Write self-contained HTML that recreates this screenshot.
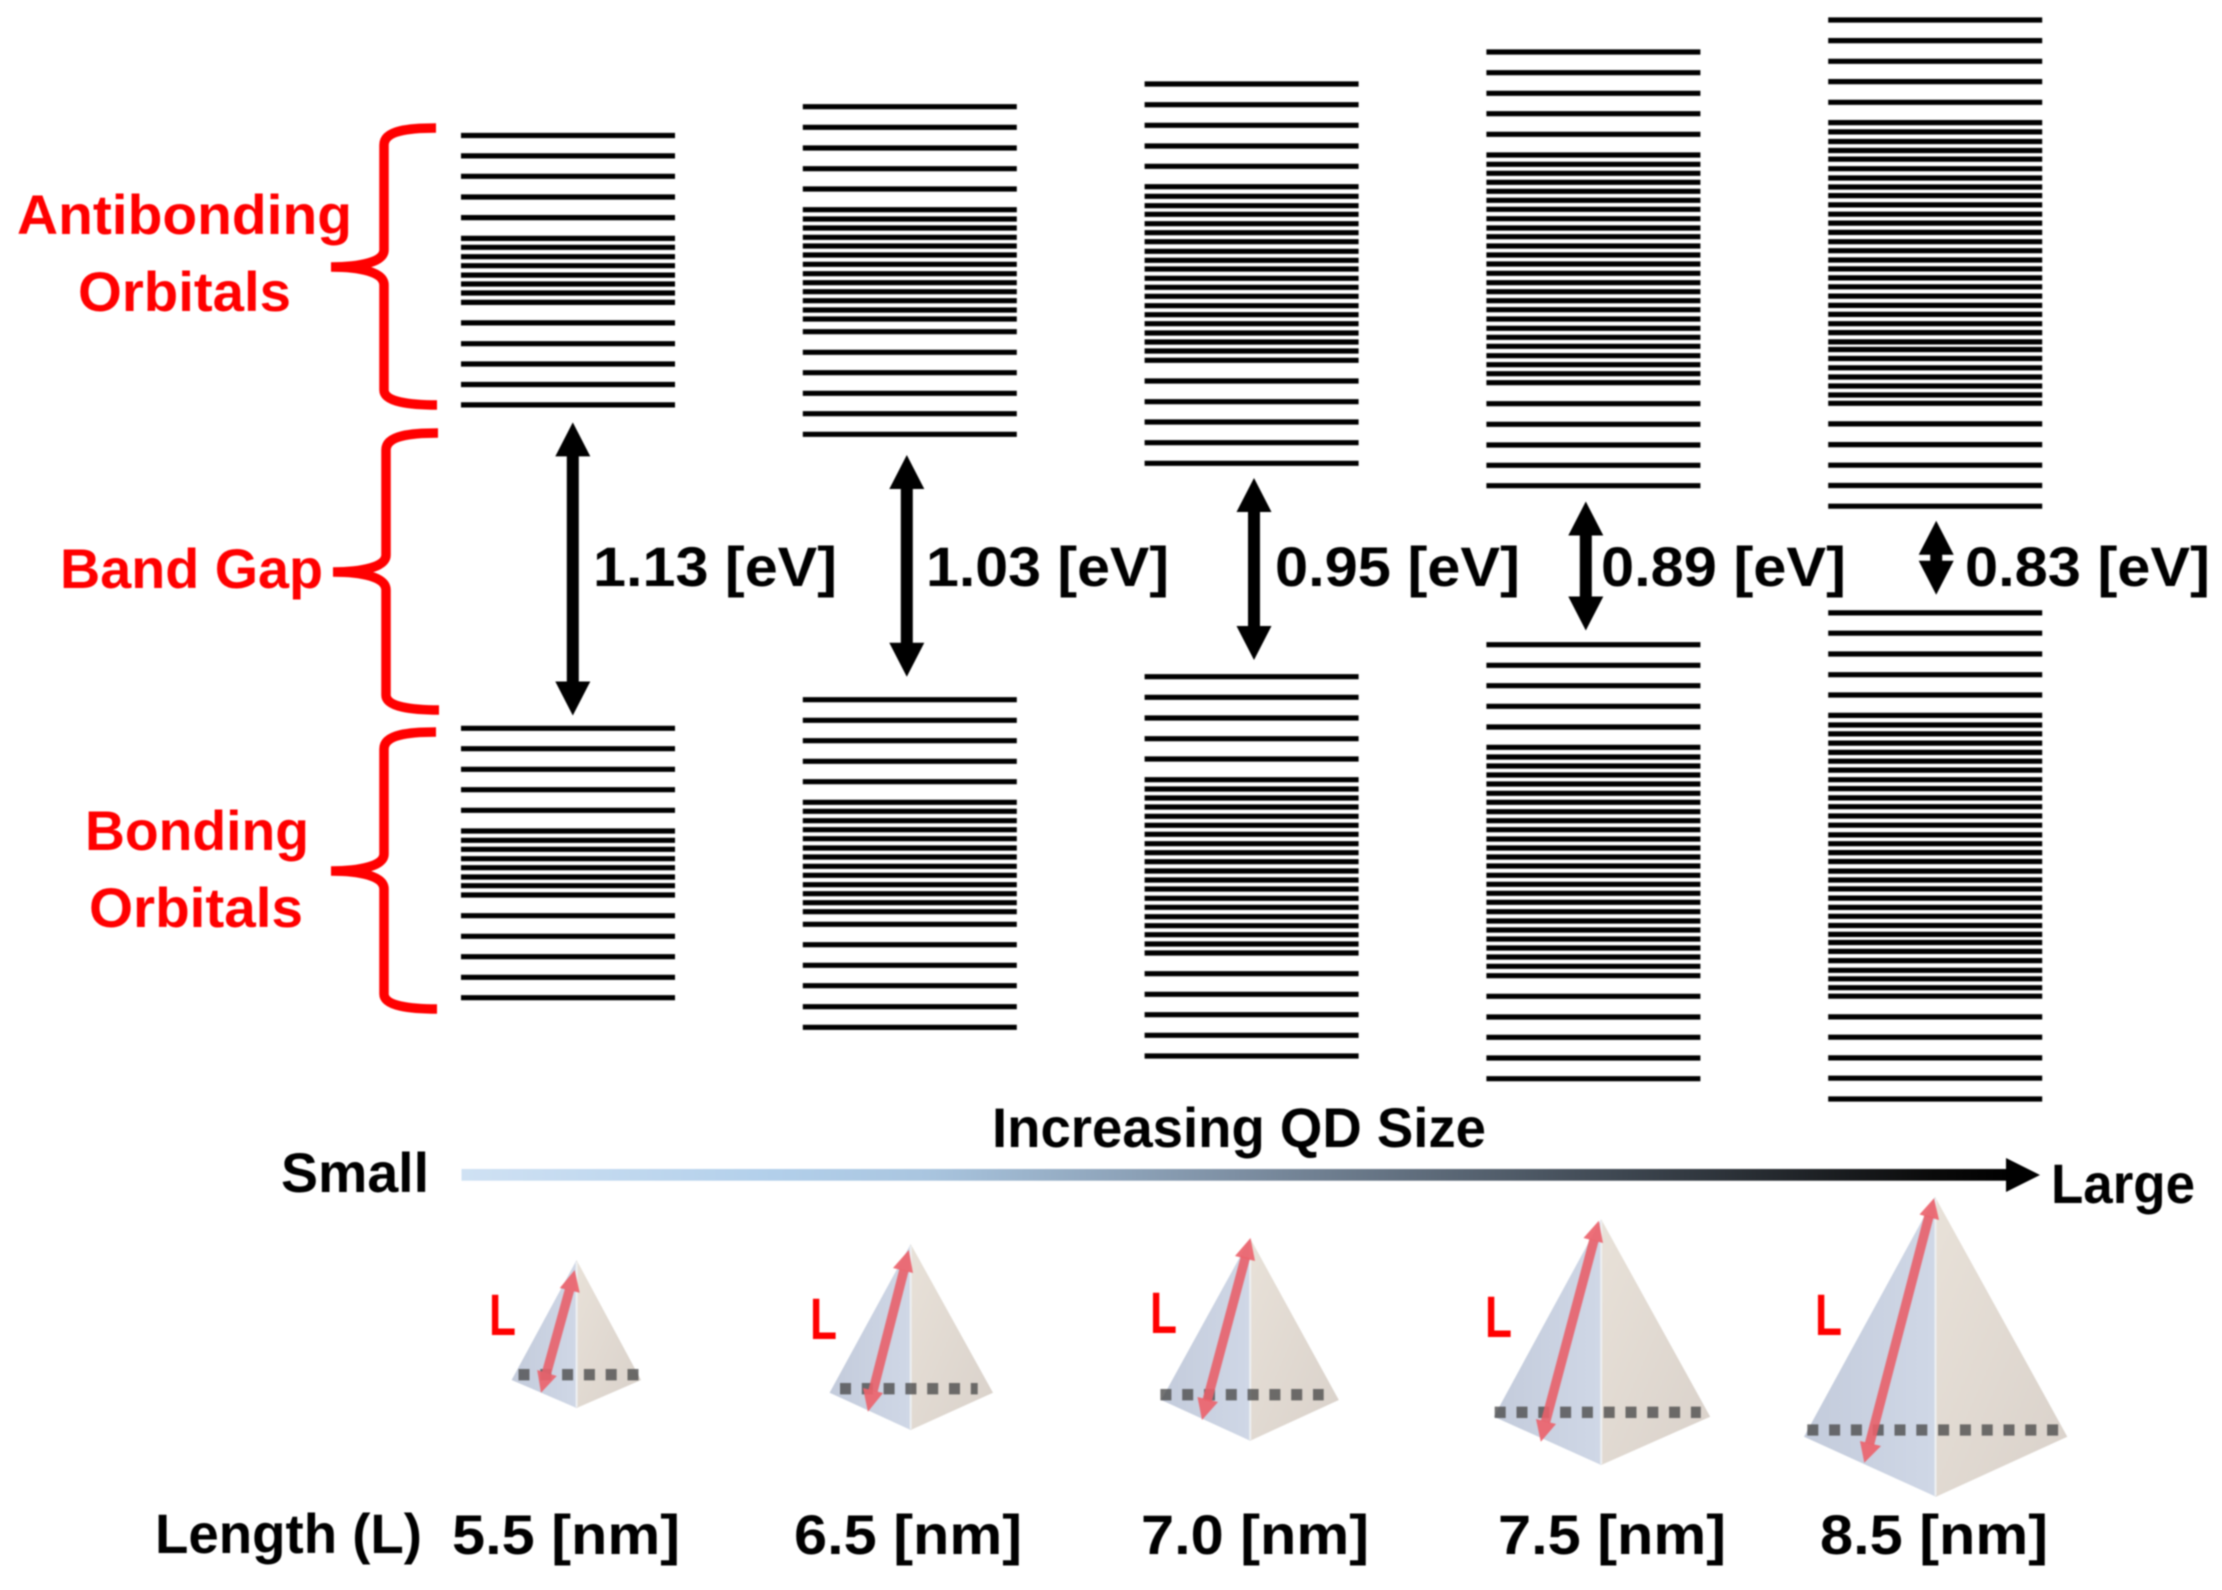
<!DOCTYPE html>
<html lang="en">
<head>
<meta charset="utf-8">
<title>QD energy levels versus size</title>
<style>
html,body{margin:0;padding:0;background:#fff;width:2222px;height:1590px;overflow:hidden}
svg{display:block;position:absolute;left:0;top:0}
text{font-family:"Liberation Sans",sans-serif;font-weight:700}
.red{fill:#ff0000}
.blk{fill:#000}
.t{font-size:56px}
.brace{fill:none;stroke:#ff0000;stroke-width:9.5;stroke-linecap:butt}
.dots{fill:none;stroke:#4a4a4a;stroke-opacity:.78;stroke-width:11.3}
.ridge{stroke:#eef0f2;stroke-width:2}
.larrow{stroke:#e8606a;stroke-opacity:.9;stroke-width:9.5;fill:none}
.lhead{fill:#ec636c;fill-opacity:.92}
</style>
</head>
<body>
<svg id="chart" xmlns="http://www.w3.org/2000/svg" width="2222" height="1590" viewBox="0 0 2222 1590">
<defs>
<linearGradient id="sizeGrad" x1="0" x2="1" y1="0" y2="0">
<stop offset="0" stop-color="#cfe1f3"/><stop offset=".2" stop-color="#b2cfea"/><stop offset=".3" stop-color="#a9c5df"/><stop offset=".5" stop-color="#7d8fa3"/><stop offset=".75" stop-color="#3d4650"/><stop offset=".95" stop-color="#0a0a0a"/><stop offset="1" stop-color="#000"/>
</linearGradient>
<linearGradient id="faceL" x1="0" x2="1" y1="0" y2="0"><stop offset="0" stop-color="#c3cbdb"/><stop offset="1" stop-color="#cfd7e6"/></linearGradient>
<linearGradient id="faceR" x1="0" x2="1" y1="0" y2="1"><stop offset="0" stop-color="#e8e1d8"/><stop offset="1" stop-color="#d9d1ca"/></linearGradient>
</defs>
<g id="root" style="filter:blur(.8px)">

<g>
<path class="brace" d="M436,128 C410,128 384,130 384,145 L384,250 C384,262 360,267 331,267 M331,267 C360,267 384,272 384,285 L384,390 C384,402 410,405 437,405"/>
<path class="brace" d="M438,433 C412,433 386,435 386,450 L386,555 C386,567 362,572 333,572 M333,572 C362,572 386,577 386,590 L386,695 C386,707 412,710 439,710"/>
<path class="brace" d="M436,732 C410,732 384,734 384,749 L384,854 C384,866 360,871 331,871 M331,871 C360,871 384,876 384,889 L384,994 C384,1006 410,1009 437,1009"/>
</g>

<text class="t red" x="17" y="234" textLength="335" lengthAdjust="spacingAndGlyphs">Antibonding</text>
<text class="t red" x="78" y="311" textLength="213" lengthAdjust="spacingAndGlyphs">Orbitals</text>
<text class="t red" x="60" y="588" textLength="263" lengthAdjust="spacingAndGlyphs">Band Gap</text>
<text class="t red" x="85" y="850" textLength="224" lengthAdjust="spacingAndGlyphs">Bonding</text>
<text class="t red" x="89" y="927" textLength="214" lengthAdjust="spacingAndGlyphs">Orbitals</text>

<g id="levels"></g>
<g id="arrows"></g>

<text class="t blk" x="593" y="586" textLength="244" lengthAdjust="spacingAndGlyphs">1.13 [eV]</text>
<text class="t blk" x="926" y="586" textLength="243" lengthAdjust="spacingAndGlyphs">1.03 [eV]</text>
<text class="t blk" x="1275" y="586" textLength="245" lengthAdjust="spacingAndGlyphs">0.95 [eV]</text>
<text class="t blk" x="1601" y="586" textLength="245" lengthAdjust="spacingAndGlyphs">0.89 [eV]</text>
<text class="t blk" x="1965" y="586" textLength="245" lengthAdjust="spacingAndGlyphs">0.83 [eV]</text>

<text class="t blk" x="992" y="1147" textLength="494" lengthAdjust="spacingAndGlyphs">Increasing QD Size</text>
<text class="t blk" x="281" y="1192" textLength="148" lengthAdjust="spacingAndGlyphs">Small</text>
<text class="t blk" x="2051" y="1203" textLength="144" lengthAdjust="spacingAndGlyphs">Large</text>
<rect x="461.5" y="1169" width="1550" height="11.7" fill="url(#sizeGrad)"/>
<polygon points="2006,1158 2040,1175 2006,1192" fill="#000"/>

<g>
<polygon fill="url(#faceL)" points="576.6,1260 511.6,1380 576.6,1408"/>
<polygon fill="url(#faceR)" points="576.6,1260 641,1380 576.6,1408"/>
<line class="ridge" x1="576.6" y1="1262" x2="576.6" y2="1407"/>
<line class="dots" x1="518.5" y1="1374.7" x2="640" y2="1374.7" stroke-dasharray="11 10.8"/>
<line class="larrow" x1="569.5" y1="1290" x2="546.5" y2="1373"/>
<polygon class="lhead" points="574.7,1270 579.7,1292.7 559.8,1288"/>
<polygon class="lhead" points="541,1392.7 537.2,1370 556.7,1376"/>
<text class="red" style="font-size:58px" x="489" y="1335" textLength="27" lengthAdjust="spacingAndGlyphs">L</text>
</g>

<g>
<polygon fill="url(#faceL)" points="910.7,1244 829.6,1392.7 910.7,1430"/>
<polygon fill="url(#faceR)" points="910.7,1244 993,1392.7 910.7,1430"/>
<line class="ridge" x1="910.7" y1="1246" x2="910.7" y2="1429"/>
<line class="dots" x1="840" y1="1388.7" x2="977.7" y2="1388.7" stroke-dasharray="11 10.8"/>
<line class="larrow" x1="904" y1="1270" x2="873" y2="1391"/>
<polygon class="lhead" points="908.8,1250 913,1273 893,1268"/>
<polygon class="lhead" points="867.9,1411.7 863,1388 883,1393"/>
<text class="red" style="font-size:58px" x="810" y="1339" textLength="27" lengthAdjust="spacingAndGlyphs">L</text>
</g>

<g>
<polygon fill="url(#faceL)" points="1250.2,1238.3 1161.2,1400 1250.2,1440.7"/>
<polygon fill="url(#faceR)" points="1250.2,1238.3 1338.8,1400 1250.2,1440.7"/>
<line class="ridge" x1="1250.2" y1="1240" x2="1250.2" y2="1439.7"/>
<line class="dots" x1="1160.4" y1="1394.7" x2="1323.7" y2="1394.7" stroke-dasharray="11 10.8"/>
<line class="larrow" x1="1245.5" y1="1257" x2="1207" y2="1401"/>
<polygon class="lhead" points="1250.5,1238 1255,1261 1235,1256"/>
<polygon class="lhead" points="1202,1420 1197.5,1397 1218,1402"/>
<text class="red" style="font-size:58px" x="1150" y="1333" textLength="27" lengthAdjust="spacingAndGlyphs">L</text>
</g>

<g>
<polygon fill="url(#faceL)" points="1601.2,1219.3 1493.9,1416.7 1601.2,1465"/>
<polygon fill="url(#faceR)" points="1601.2,1219.3 1710.2,1416.7 1601.2,1465"/>
<line class="ridge" x1="1601.2" y1="1221" x2="1601.2" y2="1464"/>
<line class="dots" x1="1494.7" y1="1412.3" x2="1700.8" y2="1412.3" stroke-dasharray="11 10.8"/>
<line class="larrow" x1="1594" y1="1240" x2="1545.5" y2="1422"/>
<polygon class="lhead" points="1598.8,1220.7 1603,1243 1583.5,1238"/>
<polygon class="lhead" points="1540.8,1441.7 1536,1419 1556,1424"/>
<text class="red" style="font-size:58px" x="1485" y="1337" textLength="27" lengthAdjust="spacingAndGlyphs">L</text>
</g>

<g>
<polygon fill="url(#faceL)" points="1935,1196.7 1804,1436.7 1936,1496.7"/>
<polygon fill="url(#faceR)" points="1935,1196.7 2067.3,1436.7 1936,1496.7"/>
<line class="ridge" x1="1935.5" y1="1199" x2="1935.5" y2="1495.7"/>
<line class="dots" x1="1807.3" y1="1430" x2="2058.3" y2="1430" stroke-dasharray="11 10.8"/>
<line class="larrow" x1="1929" y1="1216" x2="1869.5" y2="1444"/>
<polygon class="lhead" points="1934,1198.3 1939,1220 1919.5,1214.5"/>
<polygon class="lhead" points="1864.3,1462.7 1860,1441 1881,1446"/>
<text class="red" style="font-size:58px" x="1815" y="1335" textLength="27" lengthAdjust="spacingAndGlyphs">L</text>
</g>

<text class="t blk" x="155" y="1553" textLength="267" lengthAdjust="spacingAndGlyphs">Length (L)</text>
<text class="t blk" x="452" y="1554" textLength="228" lengthAdjust="spacingAndGlyphs">5.5 [nm]</text>
<text class="t blk" x="794" y="1554" textLength="228" lengthAdjust="spacingAndGlyphs">6.5 [nm]</text>
<text class="t blk" x="1141" y="1554" textLength="228" lengthAdjust="spacingAndGlyphs">7.0 [nm]</text>
<text class="t blk" x="1498" y="1554" textLength="228" lengthAdjust="spacingAndGlyphs">7.5 [nm]</text>
<text class="t blk" x="1820" y="1554" textLength="228" lengthAdjust="spacingAndGlyphs">8.5 [nm]</text>
</g>
</svg>
<script>
// Energies are in arbitrary schematic units relative to mid-gap.
const qdSizes = ["5.5", "6.5", "7.0", "7.5", "8.5"];

const antibonding55 = [4.245,4.041,3.837,3.63,3.424,3.216,3.127,3.033,2.943,2.849,2.76,2.67,2.576,2.371,2.163,1.96,1.755,1.551];
const bonding55 = [-1.683,-1.887,-2.093,-2.297,-2.503,-2.71,-2.803,-2.893,-2.987,-3.077,-3.17,-3.257,-3.35,-3.557,-3.763,-3.967,-4.173,-4.377];

const antibonding65 = [4.533,4.327,4.12,3.913,3.71,3.503,3.41,3.32,3.227,3.14,3.05,2.957,2.863,2.773,2.683,2.593,2.5,2.41,2.283,2.077,1.873,1.667,1.463,1.257];
const bonding65 = [-1.397,-1.603,-1.807,-2.013,-2.217,-2.423,-2.513,-2.607,-2.697,-2.787,-2.88,-2.97,-3.063,-3.153,-3.247,-3.337,-3.427,-3.517,-3.643,-3.847,-4.053,-4.257,-4.467,-4.673];

const antibonding70 = [4.76,4.553,4.347,4.14,3.937,3.733,3.637,3.543,3.457,3.363,3.273,3.183,3.087,2.997,2.91,2.817,2.727,2.637,2.543,2.453,2.363,2.27,2.18,2.09,1.997,1.79,1.583,1.38,1.173,0.967];
const bonding70 = [-1.167,-1.373,-1.58,-1.787,-1.99,-2.197,-2.29,-2.38,-2.47,-2.563,-2.653,-2.743,-2.837,-2.927,-3.017,-3.11,-3.2,-3.29,-3.383,-3.473,-3.567,-3.657,-3.747,-3.84,-3.93,-4.137,-4.343,-4.547,-4.753,-4.96];

const antibonding75 = [5.08,4.873,4.667,4.463,4.257,4.05,3.957,3.867,3.777,3.687,3.597,3.507,3.413,3.32,3.233,3.14,3.05,2.96,2.867,2.773,2.683,2.593,2.503,2.41,2.317,2.227,2.137,2.043,1.953,1.863,1.773,1.563,1.357,1.15,0.947,0.743];
const bonding75 = [-0.847,-1.053,-1.257,-1.463,-1.67,-1.873,-1.97,-2.06,-2.15,-2.24,-2.333,-2.423,-2.517,-2.607,-2.697,-2.79,-2.88,-2.97,-3.06,-3.153,-3.243,-3.333,-3.423,-3.517,-3.61,-3.7,-3.79,-3.88,-3.97,-4.063,-4.157,-4.363,-4.57,-4.773,-4.98,-5.187];

const antibonding85 = [5.4,5.194,4.987,4.784,4.577,4.374,4.281,4.185,4.095,4.009,3.913,3.82,3.73,3.644,3.551,3.458,3.369,3.276,3.183,3.093,3.0,2.911,2.821,2.732,2.639,2.546,2.456,2.363,2.274,2.181,2.105,2.015,1.922,1.83,1.74,1.65,1.567,1.361,1.154,0.948,0.745,0.538];
const bonding85 = [-0.529,-0.732,-0.94,-1.147,-1.35,-1.554,-1.65,-1.739,-1.831,-1.924,-2.012,-2.101,-2.197,-2.286,-2.379,-2.467,-2.56,-2.652,-2.749,-2.837,-2.926,-3.015,-3.111,-3.2,-3.289,-3.381,-3.474,-3.563,-3.655,-3.744,-3.825,-3.914,-4.006,-4.103,-4.188,-4.277,-4.362,-4.569,-4.772,-4.979,-5.182,-5.39];

const gapTopEnergy = [1.376, 1.05, 0.82, 0.585, 0.393];
const gapBottomEnergy = [-1.555, -1.167, -1.0, -0.705, -0.348];

const levelSeries = [
  antibonding55.concat(bonding55),
  antibonding65.concat(bonding65),
  antibonding70.concat(bonding70),
  antibonding75.concat(bonding75),
  antibonding85.concat(bonding85)
];

const SVGNS = "http://www.w3.org/2000/svg";

function yOfEnergy(e) {
  return 560 - 100 * e;
}
function xOfColumn(i) {
  return 461 + 341.8 * i;
}
function arrowXOfColumn(i) {
  const nudge = [4.8, -3, 2.4, -7.6, 1];
  return xOfColumn(i) + 107 + nudge[i];
}

const levelsGroup = document.getElementById("levels");
levelSeries.forEach(function (levels, i) {
  levels.forEach(function (e) {
    const line = document.createElementNS(SVGNS, "line");
    
    
    line.setAttribute("x1", xOfColumn(i));
    line.setAttribute("x2", xOfColumn(i) + 214);
    line.setAttribute("y1", yOfEnergy(e));
    line.setAttribute("y2", yOfEnergy(e));
    line.setAttribute("stroke", "#000");
    line.setAttribute("stroke-width", "5.2");
    levelsGroup.appendChild(line);
  });
});

const arrowsGroup = document.getElementById("arrows");
qdSizes.forEach(function (size, i) {
  const x = arrowXOfColumn(i);
  const top = yOfEnergy(gapTopEnergy[i]);
  const bottom = yOfEnergy(gapBottomEnergy[i]);
  const hw = 17.5, hl = 34, sw = 6;
  const d = [
    [x, top], [x + hw, top + hl], [x + sw, top + hl], [x + sw, bottom - hl],
    [x + hw, bottom - hl], [x, bottom], [x - hw, bottom - hl], [x - sw, bottom - hl],
    [x - sw, top + hl], [x - hw, top + hl]
  ].map(function (p) { return p[0] + "," + p[1]; }).join(" ");
  const poly = document.createElementNS(SVGNS, "polygon");
  
  
  poly.setAttribute("points", d);
  poly.setAttribute("fill", "#000");
  arrowsGroup.appendChild(poly);
});
</script>
</body>
</html>
